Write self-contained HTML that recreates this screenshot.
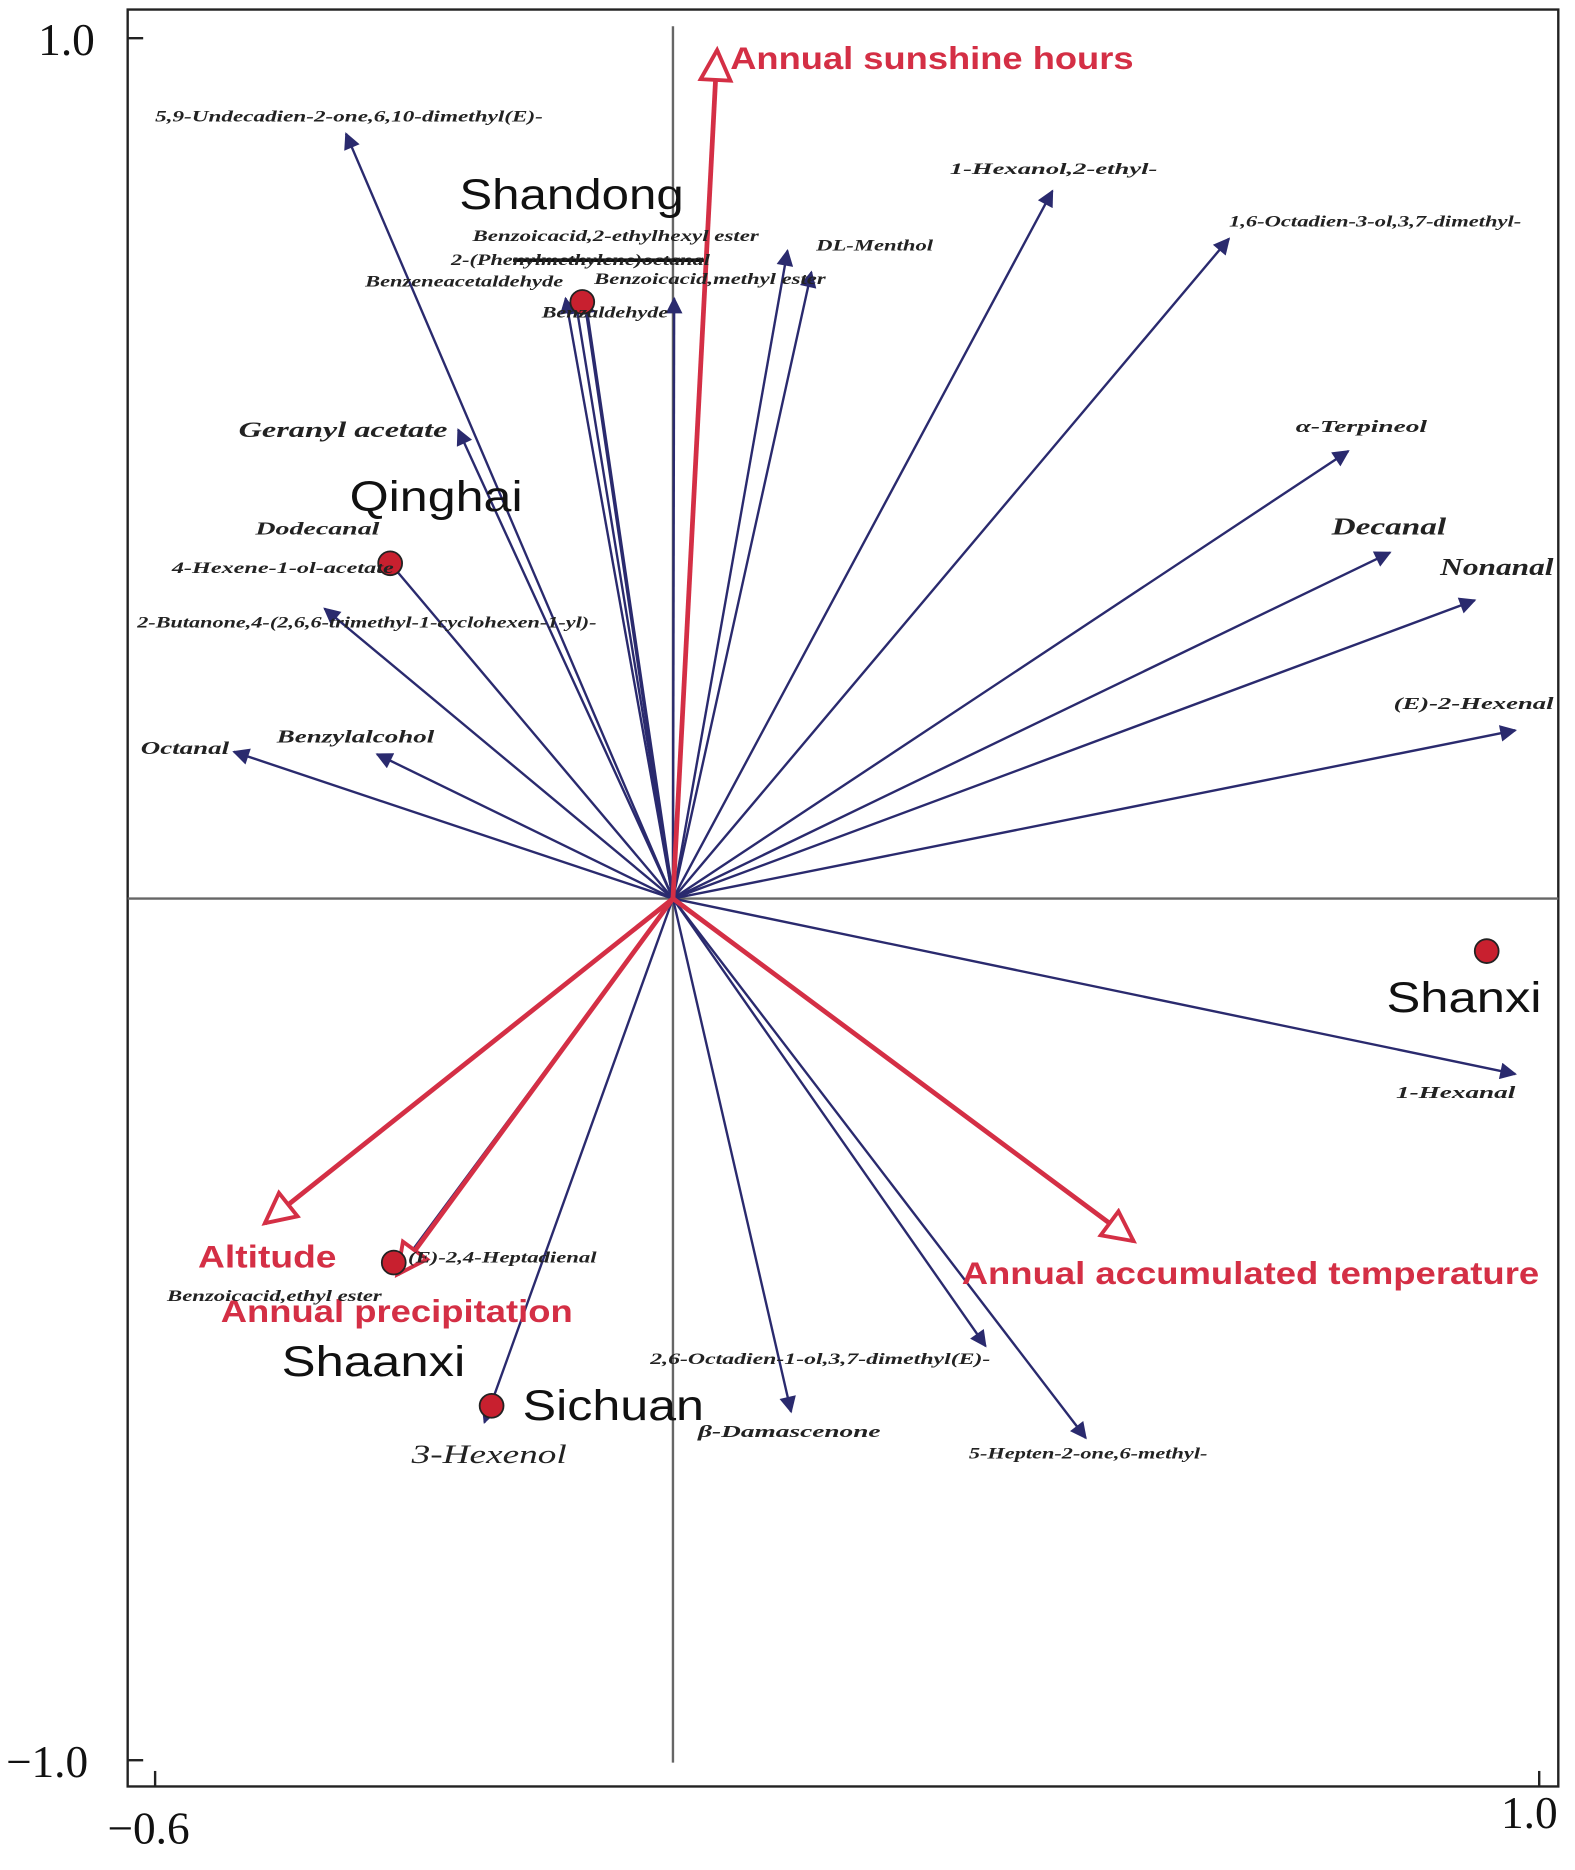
<!DOCTYPE html>
<html><head><meta charset="utf-8"><style>
html,body{margin:0;padding:0;background:#fff;}
svg{display:block}
.lbl{font-family:"Liberation Serif",serif;font-style:italic;font-weight:bold;font-size:13px;fill:#222}
.big{font-family:"Liberation Sans",sans-serif;font-size:36px;fill:#111}
.red{font-family:"Liberation Sans",sans-serif;font-weight:bold;font-size:26px;fill:#d42f45}
.ax{font-family:"Liberation Serif",serif;font-size:38px;fill:#111}
</style></head><body>
<svg width="1575" height="1870" viewBox="0 0 1320 1567" preserveAspectRatio="none" xmlns="http://www.w3.org/2000/svg">
<defs>
<marker id="bh" viewBox="0 0 10 10" refX="9" refY="5" markerWidth="18" markerHeight="14" orient="auto" markerUnits="userSpaceOnUse"><path d="M0,0 L10,5 L0,10 z" fill="#2a2a6e"/></marker>
<marker id="r" viewBox="0 0 12 12" refX="11" refY="6" markerWidth="36" markerHeight="30" orient="auto" markerUnits="userSpaceOnUse"><path d="M1,1 L11,6 L1,11 z" fill="#fff" stroke="#d42f45" stroke-width="1.3"/></marker>
</defs>
<rect x="107" y="8" width="1199" height="1489" fill="none" stroke="#222" stroke-width="2"/>
<line x1="564" y1="22" x2="564" y2="1477" stroke="#666" stroke-width="2"/>
<line x1="107" y1="753" x2="1306" y2="753" stroke="#666" stroke-width="2"/>
<line x1="107" y1="32" x2="120" y2="32" stroke="#222" stroke-width="2"/>
<line x1="107" y1="1475" x2="120" y2="1475" stroke="#222" stroke-width="2"/>
<line x1="130" y1="1497" x2="130" y2="1484" stroke="#222" stroke-width="2"/>
<line x1="1290" y1="1497" x2="1290" y2="1484" stroke="#222" stroke-width="2"/>
<text class="ax" x="32" y="46">1.0</text>
<text class="ax" x="5" y="1489">−1.0</text>
<text class="ax" x="90" y="1545">−0.6</text>
<text class="ax" x="1258" y="1532">1.0</text>
<g stroke="#2a2a6e" stroke-width="2" marker-end="url(#bh)">
<line x1="564" y1="753" x2="290" y2="112"/>
<line x1="564" y1="753" x2="384" y2="360"/>
<line x1="564" y1="753" x2="322" y2="466"/>
<line x1="564" y1="753" x2="272" y2="510"/>
<line x1="564" y1="753" x2="196" y2="630"/>
<line x1="564" y1="753" x2="316" y2="632"/>
<line x1="564" y1="753" x2="474" y2="250"/>
<line x1="564" y1="753" x2="482" y2="250"/>
<line x1="564" y1="753" x2="490" y2="250" stroke-width="3"/>
<line x1="564" y1="753" x2="565" y2="250"/>
<line x1="564" y1="753" x2="660" y2="210"/>
<line x1="564" y1="753" x2="680" y2="228"/>
<line x1="564" y1="753" x2="882" y2="160"/>
<line x1="564" y1="753" x2="1030" y2="200"/>
<line x1="564" y1="753" x2="1130" y2="378"/>
<line x1="564" y1="753" x2="1165" y2="463"/>
<line x1="564" y1="753" x2="1236" y2="503"/>
<line x1="564" y1="753" x2="1270" y2="612"/>
<line x1="564" y1="753" x2="1270" y2="900"/>
<line x1="564" y1="753" x2="826" y2="1128"/>
<line x1="564" y1="753" x2="910" y2="1205"/>
<line x1="564" y1="753" x2="663" y2="1183"/>
<line x1="564" y1="753" x2="406" y2="1192"/>
<line x1="564" y1="753" x2="335" y2="1062"/>
</g>
<line x1="430" y1="218" x2="590" y2="218" stroke="#111" stroke-width="3"/>
<g stroke="#d42f45" stroke-width="4" marker-end="url(#r)">
<line x1="564" y1="753" x2="601" y2="42"/>
<line x1="564" y1="753" x2="222" y2="1025"/>
<line x1="564" y1="753" x2="333" y2="1068"/>
<line x1="564" y1="753" x2="950" y2="1040"/>
</g>
<g fill="#c8202f" stroke="#222" stroke-width="1.5">
<circle cx="488" cy="253" r="10"/><circle cx="327" cy="472" r="10"/><circle cx="1246" cy="797" r="10"/><circle cx="330" cy="1058" r="10"/><circle cx="412" cy="1178" r="10"/>
</g>
<text class="big" x="385" y="175" textLength="188" lengthAdjust="spacingAndGlyphs">Shandong</text>
<text class="big" x="293" y="428" textLength="145" lengthAdjust="spacingAndGlyphs">Qinghai</text>
<text class="big" x="1162" y="848" textLength="130" lengthAdjust="spacingAndGlyphs">Shanxi</text>
<text class="big" x="236" y="1153" textLength="154" lengthAdjust="spacingAndGlyphs">Shaanxi</text>
<text class="big" x="438" y="1190" textLength="152" lengthAdjust="spacingAndGlyphs">Sichuan</text>
<text class="red" x="612" y="58" textLength="338" lengthAdjust="spacingAndGlyphs">Annual sunshine hours</text>
<text class="red" x="166" y="1062" textLength="116" lengthAdjust="spacingAndGlyphs">Altitude</text>
<text class="red" x="185" y="1108" textLength="295" lengthAdjust="spacingAndGlyphs">Annual precipitation</text>
<text class="red" x="806" y="1076" textLength="484" lengthAdjust="spacingAndGlyphs">Annual accumulated temperature</text>
<g class="lbl">
<text x="130" y="102" textLength="325" lengthAdjust="spacingAndGlyphs">5,9-Undecadien-2-one,6,10-dimethyl(E)-</text>
<text x="396" y="202" textLength="240" lengthAdjust="spacingAndGlyphs">Benzoicacid,2-ethylhexyl ester</text>
<text x="378" y="222" textLength="217" lengthAdjust="spacingAndGlyphs">2-(Phenylmethylene)octanal</text>
<text x="306" y="240" textLength="166" lengthAdjust="spacingAndGlyphs">Benzeneacetaldehyde</text>
<text x="498" y="238" textLength="194" lengthAdjust="spacingAndGlyphs">Benzoicacid,methyl ester</text>
<text x="454" y="266" textLength="106" lengthAdjust="spacingAndGlyphs">Benzaldehyde</text>
<text x="684" y="210" textLength="98" lengthAdjust="spacingAndGlyphs">DL-Menthol</text>
<text x="796" y="146" textLength="174" lengthAdjust="spacingAndGlyphs">1-Hexanol,2-ethyl-</text>
<text x="1030" y="190" textLength="245" lengthAdjust="spacingAndGlyphs">1,6-Octadien-3-ol,3,7-dimethyl-</text>
<text x="200" y="366" style="font-size:19px" textLength="175" lengthAdjust="spacingAndGlyphs">Geranyl acetate</text>
<text x="214" y="448" style="font-size:15px" textLength="104" lengthAdjust="spacingAndGlyphs">Dodecanal</text>
<text x="144" y="480" textLength="186" lengthAdjust="spacingAndGlyphs">4-Hexene-1-ol-acetate</text>
<text x="115" y="526" textLength="385" lengthAdjust="spacingAndGlyphs">2-Butanone,4-(2,6,6-trimethyl-1-cyclohexen-1-yl)-</text>
<text x="118" y="632" style="font-size:15px" textLength="74" lengthAdjust="spacingAndGlyphs">Octanal</text>
<text x="232" y="622" style="font-size:15px" textLength="132" lengthAdjust="spacingAndGlyphs">Benzylalcohol</text>
<text x="1086" y="362" style="font-size:14px" textLength="110" lengthAdjust="spacingAndGlyphs">α-Terpineol</text>
<text x="1116" y="448" style="font-size:20px" textLength="96" lengthAdjust="spacingAndGlyphs">Decanal</text>
<text x="1207" y="482" style="font-size:20px" textLength="95" lengthAdjust="spacingAndGlyphs">Nonanal</text>
<text x="1168" y="594" style="font-size:14px" textLength="134" lengthAdjust="spacingAndGlyphs">(E)-2-Hexenal</text>
<text x="1170" y="920" style="font-size:14px" textLength="100" lengthAdjust="spacingAndGlyphs">1-Hexanal</text>
<text x="342" y="1058" textLength="158" lengthAdjust="spacingAndGlyphs">(E)-2,4-Heptadienal</text>
<text x="140" y="1090" textLength="180" lengthAdjust="spacingAndGlyphs">Benzoicacid,ethyl ester</text>
<text x="545" y="1143" textLength="285" lengthAdjust="spacingAndGlyphs">2,6-Octadien-1-ol,3,7-dimethyl(E)-</text>
<text x="585" y="1204" style="font-size:14px" textLength="153" lengthAdjust="spacingAndGlyphs">β-Damascenone</text>
<text x="812" y="1222" textLength="200" lengthAdjust="spacingAndGlyphs">5-Hepten-2-one,6-methyl-</text>
<text x="345" y="1226" style="font-size:22px;font-weight:normal" textLength="130" lengthAdjust="spacingAndGlyphs">3-Hexenol</text>
</g>
</svg>
</body></html>
